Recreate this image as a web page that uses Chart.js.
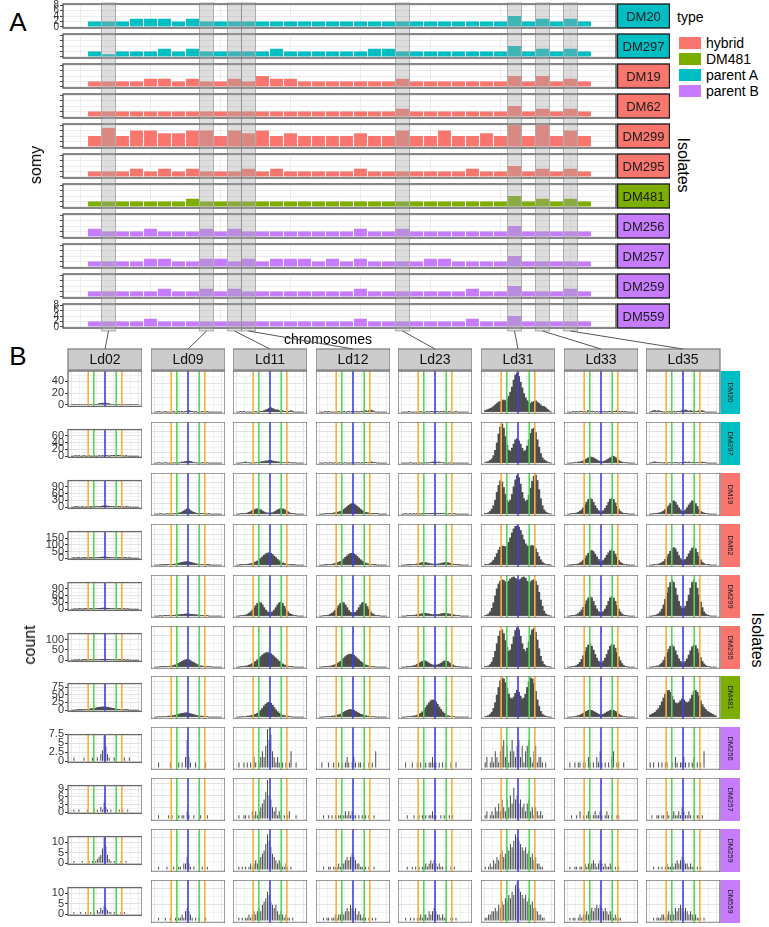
<!DOCTYPE html>
<html><head><meta charset="utf-8">
<script src="https://cdn.jsdelivr.net/npm/chart.js@4.4.1/dist/chart.umd.min.js"></script>
<style>
body{margin:0;background:#fff;width:769px;height:927px;position:relative;overflow:hidden;font-family:"Liberation Sans",Arial,Helvetica,sans-serif}
canvas{position:absolute}
.t{position:absolute;white-space:nowrap;color:#000;line-height:1}
</style></head><body>
<script>
// ---------------- DATA ----------------
const isolates = ['DM20','DM297','DM19','DM62','DM299','DM295','DM481','DM256','DM257','DM259','DM559'];
const isolateTypes = ['parent A','parent A','hybrid','hybrid','hybrid','hybrid','DM481','parent B','parent B','parent B','parent B'];
const typeNames = ['hybrid','DM481','parent A','parent B'];
const typeColors = ['#F8766D','#7CAE00','#00BFC4','#C77CFF'];
const chromosomes = [1,2,3,4,5,6,7,8,9,10,11,12,13,14,15,16,17,18,19,20,21,22,23,24,25,26,27,28,29,30,31,32,33,34,35,36];
const somyTicks = [0,2,4,6,8];
const chrGridTicks = [0,5,10,15,20,25,30,35];
const highlightChr = [2,9,11,12,23,31,33,35];
const chrNames = ['Ld02','Ld09','Ld11','Ld12','Ld23','Ld31','Ld33','Ld35'];

const somy_DM20  = [2,2,2,3,3,3,2,3,2,2,2,2, 2,2,2,2,2,2,2,2,2,2,2,2, 2,2,2,2,2,2,4,2,3,2,3,2];
const somy_DM297 = [2,1,2,2,2,3,2,3,2,2,2,2, 2,3,2,2,2,2,2,2,3,3,2,2, 2,2,2,2,2,2,4,2,3,2,3,2];
const somy_DM19  = [2,2,2,2,3,3,2,3,2,2,3,2, 4,3,3,2,2,2,2,2,2,2,3,2, 2,2,2,2,2,2,4,2,4,2,3,2];
const somy_DM62  = [2,2,2,2,2,2,2,2,2,2,2,2, 2,2,2,2,2,2,2,2,2,2,3,2, 2,2,2,2,2,2,4,2,3,2,3,2];
const somy_DM299 = [4,7,4,6,6,5,5,6,6,4,6,5, 6,4,5,4,4,4,4,5,4,4,6,4, 4,6,4,4,5,4,8,4,8,4,6,4];
const somy_DM295 = [2,2,2,3,2,3,2,3,2,2,2,3, 2,3,2,2,2,2,2,3,2,2,2,2, 2,2,2,3,2,2,4,2,3,2,3,2];
const somy_DM481 = [2,2,2,2,2,2,2,3,2,2,2,2, 2,2,2,2,2,2,2,2,2,2,2,2, 2,2,2,2,2,2,4,2,3,2,3,2];
const somy_DM256 = [3,2,2,2,3,2,2,2,3,2,3,2, 2,2,2,2,2,2,2,3,2,2,3,2, 2,2,2,2,2,2,4,2,2,2,2,2];
const somy_DM257 = [2,2,2,2,3,3,2,2,3,3,2,3, 2,3,3,3,2,3,2,3,2,2,2,2, 3,3,2,2,2,2,4,2,2,2,2,2];
const somy_DM259 = [2,2,2,2,2,3,2,2,3,2,3,2, 2,2,2,2,2,2,2,3,2,2,2,2, 2,2,2,3,2,2,4,2,2,2,3,2];
const somy_DM559 = [2,2,2,2,3,2,2,2,2,2,2,2, 2,2,2,2,2,2,2,3,2,2,2,2, 2,2,2,3,2,2,4,2,2,2,2,2];
const somyRows = [somy_DM20,somy_DM297,somy_DM19,somy_DM62,somy_DM299,somy_DM295,somy_DM481,somy_DM256,somy_DM257,somy_DM259,somy_DM559];

// allele-frequency histogram bins (centres) and reference lines
const afBins = [0.0125,0.0375,0.0625,0.0875,0.1125,0.1375,0.1625,0.1875,0.2125,0.2375,
                0.2625,0.2875,0.3125,0.3375,0.3625,0.3875,0.4125,0.4375,0.4625,0.4875,
                0.5125,0.5375,0.5625,0.5875,0.6125,0.6375,0.6625,0.6875,0.7125,0.7375,
                0.7625,0.7875,0.8125,0.8375,0.8625,0.8875,0.9125,0.9375,0.9625,0.9875];
const afGrid = [0,0.125,0.25,0.375,0.5,0.625,0.75,0.875,1];
const afLines = [0.25,0.3333,0.5,0.6667,0.75];
const afLineColors = ['#F7B03A','#52D852','#3F3FEA','#52D852','#F7B03A'];
const countTicks = [[0,20,40],[0,20,40,60],[0,30,60,90],[0,50,100,150],[0,30,60,90],[0,50,100],[0,25,50,75],[0,2.5,5,7.5],[0,3,6,9],[0,5,10],[0,5,10]];

const hist_DM20 = [
 [0,1,0,0,1,0,0,0,0,0, 1,0,0,0,0,1,2,2,3,2, 3,2,2,1,0,0,0,1,0,0, 0,0,0,1,0,1,0,0,0,0],
 [0,0,1,0,0,0,1,0,0,0, 0,1,0,0,1,0,1,0,1,1, 2,1,1,0,1,0,0,0,1,0, 0,1,0,0,0,0,0,0,0,0],
 [0,0,1,0,1,0,0,0,0,0, 0,1,0,1,1,1,2,3,4,5, 6,5,4,3,3,2,1,2,1,1, 0,1,2,1,0,0,0,0,0,0],
 [0,0,0,1,0,1,0,0,0,0, 0,1,0,0,1,0,0,1,0,1, 1,0,1,0,1,1,1,2,1,2, 3,2,1,0,0,0,0,0,0,0],
 [0,0,0,0,1,0,0,0,0,0, 0,1,0,0,0,1,0,1,1,0, 1,1,0,1,0,1,0,0,1,0, 0,0,1,0,0,0,0,0,0,0],
 [2,3,4,5,6,8,10,12,14,15, 16,17,16,18,22,28,35,45,52,55, 50,42,34,26,20,16,14,12,14,15, 16,14,12,10,8,8,6,4,2,0],
 [0,0,0,1,0,1,0,1,1,0, 1,0,2,1,1,1,0,1,0,1, 1,0,1,0,1,1,0,1,1,2, 1,0,1,0,1,0,0,0,0,0],
 [0,1,2,2,1,2,1,1,0,0, 1,0,1,0,1,0,1,1,1,2, 2,3,2,1,2,1,2,1,1,2, 1,2,1,0,0,0,0,0,0,0]];
const hist_DM297 = [
 [0,0,1,0,1,0,0,1,0,0, 1,0,0,1,0,0,1,0,1,0, 1,1,0,1,1,2,1,2,1,1, 1,0,1,0,0,0,0,0,0,0],
 [0,0,1,0,0,0,1,0,0,0, 0,1,0,1,0,1,2,2,3,3, 4,3,2,1,1,0,1,0,1,0, 0,1,0,0,0,0,0,0,0,0],
 [0,0,0,1,1,2,1,1,0,1, 0,1,1,2,2,3,3,4,4,5, 5,4,3,3,2,2,1,1,1,1, 2,1,1,0,1,0,0,0,0,0],
 [0,0,0,1,0,0,1,0,0,1, 0,0,1,0,0,1,0,0,0,1, 0,1,0,1,0,1,0,1,1,1, 2,2,1,1,0,0,0,0,0,0],
 [0,0,0,0,0,1,0,0,0,0, 1,0,0,0,1,0,1,1,2,2, 2,1,2,1,1,0,1,0,0,1, 0,0,0,0,0,0,0,0,0,0],
 [1,2,3,5,8,14,24,38,55,68, 74,66,50,34,24,22,28,36,44,46, 42,36,28,22,24,32,44,56,64,66, 58,44,30,18,10,6,4,2,1,0],
 [0,0,0,1,1,1,2,2,3,4, 6,8,10,12,11,10,8,6,4,3, 2,3,4,6,8,10,12,13,11,8, 5,3,2,1,1,1,0,0,0,0],
 [0,1,2,2,1,1,1,1,0,1, 0,1,1,0,1,1,1,0,1,1, 1,2,1,2,1,1,2,1,1,1, 1,2,1,1,0,0,0,0,0,0]];
const hist_DM19 = [
 [0,0,1,1,0,0,1,0,0,1, 0,1,1,1,2,2,3,4,5,6, 6,5,4,3,2,2,1,2,1,1, 1,0,1,1,0,0,0,0,0,0],
 [0,0,0,1,0,0,0,1,0,1, 0,1,1,2,3,4,6,9,12,15, 14,10,7,5,3,2,2,1,1,1, 1,0,1,0,0,0,0,0,0,0],
 [0,0,1,1,1,2,3,5,7,10, 12,14,15,14,12,9,6,4,3,3, 3,4,6,9,12,14,16,15,13,10, 7,4,2,1,1,0,0,0,0,0],
 [0,0,0,1,1,1,2,2,3,4, 5,6,8,10,13,17,21,25,28,30, 29,26,22,18,14,10,7,5,4,3, 2,2,1,1,1,0,0,0,0,0],
 [0,0,1,0,0,1,0,1,0,1, 1,0,1,1,2,1,2,2,1,2, 2,1,2,2,1,1,1,0,1,1, 0,1,0,0,0,0,0,0,0,0],
 [1,2,4,8,14,24,40,62,82,95, 92,76,56,40,34,40,56,78,98,110, 104,86,62,44,36,40,54,74,94,108, 112,96,70,44,24,12,6,3,1,0],
 [0,0,1,1,2,3,5,8,12,18, 26,34,42,46,42,34,24,16,10,7, 7,10,16,24,34,42,46,42,32,22, 14,8,4,2,1,1,0,0,0,0],
 [0,0,1,1,2,3,4,6,9,13, 18,24,30,36,38,34,26,18,12,8, 8,12,18,26,32,38,36,30,22,14, 8,5,3,2,1,0,0,0,0,0]];
const hist_DM62 = [
 [0,1,0,1,1,0,1,1,1,1, 2,2,3,3,4,5,6,7,8,8, 8,7,6,5,4,3,3,2,2,1, 1,1,1,0,1,0,0,0,0,0],
 [0,0,0,1,0,1,1,1,2,2, 3,4,5,7,9,11,13,15,16,17, 16,14,11,9,7,5,4,3,2,2, 1,1,1,0,0,0,0,0,0,0],
 [0,0,1,1,2,3,4,5,7,9, 12,16,20,26,33,40,48,55,59,60, 58,52,44,36,28,21,15,11,8,5, 3,2,1,1,1,0,0,0,0,0],
 [0,0,0,1,1,2,3,4,6,8, 11,14,18,24,30,38,45,52,57,58, 55,50,42,34,26,20,14,10,7,5, 3,2,1,1,0,0,0,0,0,0],
 [0,0,0,1,1,1,2,3,4,6, 8,10,12,13,12,10,8,6,5,4, 4,5,6,8,10,12,13,12,10,7, 5,3,2,1,1,0,0,0,0,0],
 [1,2,4,8,14,24,38,56,74,88, 94,92,90,96,112,134,158,178,190,192, 186,170,148,124,104,94,92,94,96,92, 80,62,42,26,14,7,3,1,1,0],
 [0,0,1,1,2,4,6,10,16,24, 34,46,58,68,72,66,54,40,28,20, 18,24,34,48,60,70,74,68,54,38, 24,14,8,4,2,1,0,0,0,0],
 [0,0,1,2,3,5,8,12,18,28, 40,54,68,80,86,80,64,46,32,24, 22,28,40,56,70,82,88,80,62,42, 26,14,7,3,2,1,0,0,0,0]];
const hist_DM299 = [
 [0,0,1,0,1,1,0,1,1,1, 2,1,2,2,3,3,4,4,5,5, 5,4,4,3,3,2,2,2,1,1, 1,1,0,1,0,0,0,0,0,0],
 [0,0,0,1,0,1,1,1,1,2, 2,2,3,3,4,4,5,5,6,6, 6,5,5,4,4,3,3,2,2,1, 1,1,0,0,0,0,0,0,0,0],
 [0,0,1,1,2,3,5,8,12,17, 23,30,36,40,38,32,24,17,12,10, 10,12,17,24,32,38,40,36,28,20, 13,8,5,3,1,1,0,0,0,0],
 [0,0,1,1,2,3,5,8,12,17, 23,30,36,40,38,32,24,16,11,9, 9,11,16,24,32,38,40,35,27,19, 12,7,4,2,1,1,0,0,0,0],
 [0,0,0,1,1,1,2,2,3,4, 5,6,7,8,8,7,6,5,4,4, 4,4,5,6,7,8,8,7,6,5, 4,3,2,1,1,0,0,0,0,0],
 [1,3,6,12,22,38,58,78,92,100, 104,102,98,96,100,106,110,112,108,104, 102,106,110,112,108,100,96,98,102,104, 100,88,68,46,28,14,6,3,1,0],
 [0,0,1,1,2,4,7,11,17,25, 34,44,52,56,52,42,30,20,13,10, 10,13,20,30,42,52,56,52,42,30, 20,12,6,3,2,1,0,0,0,0],
 [0,0,1,2,4,7,12,20,32,48, 66,82,96,102,96,80,60,42,28,22, 22,28,42,60,80,96,102,96,80,60, 40,24,12,6,3,1,0,0,0,0]];
const hist_DM295 = [
 [0,0,1,0,1,0,1,1,1,1, 1,2,2,2,3,3,3,4,4,4, 4,4,3,3,3,2,2,2,1,1, 1,1,0,1,0,0,0,0,0,0],
 [0,0,0,1,1,1,1,2,2,3, 4,5,7,9,12,15,18,21,23,24, 23,20,17,14,11,8,6,4,3,2, 2,1,1,1,0,0,0,0,0,0],
 [0,0,1,1,2,3,4,6,8,11, 14,18,23,28,33,38,42,45,46,45, 42,38,33,28,23,18,14,10,7,5, 3,2,1,1,0,0,0,0,0,0],
 [0,0,1,1,1,2,3,4,6,8, 11,14,18,23,28,33,37,40,41,40, 37,33,28,23,18,14,10,7,5,3, 2,1,1,0,0,0,0,0,0,0],
 [0,0,0,1,1,2,3,4,6,9, 12,15,18,20,19,16,12,9,7,6, 6,7,9,12,16,19,20,18,14,10, 7,4,2,1,1,0,0,0,0,0],
 [1,2,4,8,16,30,50,74,98,114, 118,106,84,62,50,54,72,96,116,124, 118,98,74,56,50,60,80,102,118,122, 110,86,58,34,18,8,4,2,1,0],
 [0,0,1,2,3,5,9,15,24,36, 50,62,70,72,66,54,40,28,19,14, 14,19,28,40,54,66,72,70,60,46, 32,20,11,5,2,1,0,0,0,0],
 [0,0,1,2,3,4,8,13,21,32, 45,57,66,70,64,52,38,26,18,13, 13,18,26,38,52,64,70,68,58,44, 30,18,10,5,2,1,0,0,0,0]];
const hist_DM481 = [
 [0,0,0,1,1,1,1,2,2,3, 3,4,5,6,7,8,9,10,10,11, 10,9,8,7,6,5,4,3,3,2, 2,1,1,1,0,0,0,0,0,0],
 [0,0,1,0,1,1,1,1,2,2, 3,3,4,5,6,7,8,8,9,9, 8,7,6,5,4,3,3,2,2,1, 1,1,0,0,0,0,0,0,0,0],
 [0,0,0,1,1,1,2,2,3,4, 5,6,8,11,14,18,23,27,30,31, 29,25,20,15,11,8,6,4,3,2, 2,1,1,0,0,0,0,0,0,0],
 [0,0,0,1,1,1,1,2,2,3, 4,5,6,8,10,12,14,15,16,15, 14,12,10,8,6,5,4,3,2,2, 1,1,1,0,0,0,0,0,0,0],
 [0,0,0,1,1,1,2,2,3,4, 6,8,11,15,20,25,30,34,36,35, 32,27,21,16,11,8,5,3,2,1, 1,1,0,0,0,0,0,0,0,0],
 [1,2,3,6,10,18,30,46,62,76, 82,80,72,60,48,40,38,42,50,56, 52,44,38,40,48,62,74,82,80,70, 54,36,22,12,6,3,2,1,0,0],
 [0,0,0,1,1,2,3,4,6,8, 10,12,14,15,14,12,10,8,6,5, 5,6,8,10,12,14,15,14,12,9, 6,4,2,1,1,0,0,0,0,0],
 [4,6,8,10,14,18,24,32,40,48, 54,56,52,44,36,30,28,30,34,38, 36,32,30,32,38,46,54,56,52,44, 34,26,20,16,12,10,8,6,4,2]];
const hist_DM256 = [
 [0,1,0,0,0,0,0,1,0,0, 0,0,1,0,0,1,0,2,3,7, 4,2,1,0,0,1,0,0,0,0, 0,1,0,0,1,0,0,0,0,0],
 [0,0,1,0,0,0,0,0,0,1, 0,0,0,0,1,0,1,0,2,5, 2,1,0,0,1,0,0,0,0,0, 1,0,0,0,0,0,0,0,0,0],
 [0,1,0,0,1,0,1,0,1,0, 2,1,0,1,2,3,2,4,7,5, 6,3,2,1,2,1,0,1,0,1, 0,1,3,0,0,1,0,0,0,0],
 [0,1,0,0,0,1,0,0,1,0, 0,1,0,1,0,1,2,1,0,1, 2,1,0,1,1,0,1,0,0,1, 0,1,0,3,0,0,0,0,0,0],
 [0,0,1,0,0,0,1,0,0,1, 0,1,0,0,1,0,1,1,2,1, 1,0,1,0,1,0,1,0,0,1, 0,0,1,0,0,0,0,0,0,0],
 [1,2,0,1,2,1,3,2,1,3, 4,5,2,4,1,3,5,3,2,4, 5,2,4,1,3,4,5,2,1,3, 4,1,2,2,1,0,1,0,0,0],
 [0,1,0,0,1,0,1,1,0,1, 1,0,2,1,0,1,0,2,1,3, 1,0,1,0,1,0,2,3,0,1, 1,0,0,1,0,0,0,0,0,0],
 [1,0,1,0,0,1,0,1,0,1, 1,0,0,1,0,2,1,0,1,1, 2,1,0,1,0,1,2,0,1,0, 1,0,3,0,0,0,0,0,0,0]];
const hist_DM257 = [
 [0,1,0,0,1,0,0,0,0,1, 0,0,0,1,0,1,0,2,1,4, 2,1,0,1,0,0,0,0,1,0, 1,0,0,1,0,0,0,0,0,0],
 [0,0,1,0,0,0,0,0,1,0, 1,0,0,0,1,0,1,1,0,2, 1,0,0,1,0,0,0,1,0,0, 0,1,0,0,0,0,0,0,0,0],
 [0,1,0,0,1,1,0,1,0,2, 1,2,1,2,3,4,5,7,10,6, 5,3,2,3,1,2,1,0,1,0, 1,2,0,0,0,1,0,0,0,0],
 [0,0,1,0,0,1,0,1,0,1, 0,1,1,0,1,2,1,2,1,2, 1,1,0,1,0,1,0,1,0,1, 0,0,1,0,0,0,0,0,0,0],
 [0,0,0,1,0,0,0,1,0,0, 1,0,1,0,1,0,1,1,2,1, 1,0,0,1,0,1,0,0,1,0, 1,0,0,0,0,0,0,0,0,0],
 [1,2,0,1,2,1,3,2,4,2, 5,3,2,5,3,6,4,8,5,6, 4,5,3,4,2,4,5,2,3,1, 3,2,1,2,1,0,0,0,0,0],
 [0,0,1,0,0,1,0,2,0,1, 0,1,2,1,0,1,2,1,1,2, 1,0,1,2,1,0,1,0,0,1, 1,0,0,0,0,0,0,0,0,0],
 [0,1,0,0,1,1,0,1,1,0, 2,1,0,1,2,1,1,2,1,3, 2,1,1,2,1,0,1,0,1,1, 0,1,0,0,0,0,0,0,0,0]];
const hist_DM259 = [
 [0,1,0,0,0,0,1,0,0,0, 1,0,1,0,1,2,3,4,7,12, 8,4,2,1,0,1,0,0,0,1, 0,0,1,0,0,0,0,0,0,0],
 [0,0,1,0,0,0,0,1,0,0, 0,1,0,0,1,1,0,2,2,4, 2,1,0,1,0,0,0,0,1,0, 0,1,0,0,0,0,0,0,0,0],
 [0,1,0,1,0,1,0,1,2,1, 2,3,2,3,4,5,6,8,11,9, 7,5,4,3,2,3,2,1,1,2, 1,0,1,0,0,0,0,0,0,0],
 [0,0,1,0,0,1,1,0,1,1, 1,2,1,2,2,3,4,3,4,5, 4,3,2,2,1,1,0,1,0,1, 0,0,1,0,0,0,0,0,0,0],
 [0,0,0,1,0,0,1,0,1,0, 1,0,1,1,2,1,2,3,2,3, 2,1,2,1,1,0,1,0,0,1, 0,1,0,0,0,0,0,0,0,0],
 [1,0,1,2,1,3,2,4,3,5, 6,4,5,7,6,8,7,9,11,10, 9,8,7,6,7,5,6,4,5,3, 4,2,2,1,1,0,0,0,0,0],
 [0,1,0,0,1,1,0,1,1,0, 2,1,2,1,2,3,2,1,2,3, 2,1,2,1,1,2,1,0,1,0, 1,0,0,0,0,0,0,0,0,0],
 [0,0,1,0,0,1,0,1,0,1, 2,1,1,2,1,2,3,2,3,4, 3,2,2,1,2,1,1,0,1,0, 1,0,0,0,0,0,0,0,0,0]];
const hist_DM559 = [
 [0,1,0,0,0,1,0,0,1,0, 0,1,0,1,0,2,1,3,2,4, 3,2,1,1,0,1,0,0,0,1, 0,1,0,0,0,0,0,0,0,0],
 [0,0,1,0,0,0,1,0,0,1, 0,0,1,0,1,1,2,1,3,4, 3,2,1,0,1,0,1,0,0,0, 1,0,0,0,0,0,0,0,0,0],
 [0,1,0,1,0,1,1,2,1,2, 3,2,3,4,3,5,6,7,9,8, 6,5,4,5,3,2,3,2,1,2, 1,1,0,1,0,0,0,0,0,0],
 [0,0,1,0,1,1,0,1,1,2, 1,2,2,3,2,3,4,3,5,4, 3,4,2,3,2,1,2,1,0,1, 0,1,0,1,0,0,0,0,0,0],
 [0,0,1,0,0,1,0,1,0,1, 1,2,1,2,2,1,3,2,3,4, 3,2,2,1,2,1,1,0,0,1, 1,0,1,0,0,0,0,0,0,0],
 [1,1,2,2,3,3,4,3,5,4, 6,5,7,6,8,7,9,8,11,12, 10,9,8,7,8,6,7,5,6,4, 4,3,2,2,1,1,0,0,0,0],
 [0,1,0,1,1,0,1,2,1,2, 2,3,2,3,4,3,4,5,4,5, 4,3,4,3,2,3,2,1,2,1, 1,1,0,0,0,0,0,0,0,0],
 [0,0,1,0,1,1,1,2,2,1, 2,3,2,3,2,4,3,4,5,4, 3,4,3,2,3,2,1,2,1,1, 1,0,1,0,0,0,0,0,0,0]];
const histRows = [hist_DM20,hist_DM297,hist_DM19,hist_DM62,hist_DM299,hist_DM295,hist_DM481,hist_DM256,hist_DM257,hist_DM259,hist_DM559];

// ---------------- LAYOUT / DRAWING ----------------
const FONT = '"Liberation Sans", Arial, Helvetica, sans-serif';
Chart.defaults.font.family = FONT;
Chart.defaults.animation = false;
function typeColor(i){ return typeColors[typeNames.indexOf(isolateTypes[i])]; }
function mkCanvas(left, top, w, h, z){
  const c = document.createElement('canvas');
  c.width = w; c.height = h;
  c.style.left = left+'px'; c.style.top = top+'px';
  c.style.width = w+'px'; c.style.height = h+'px';
  if (z) c.style.zIndex = z;
  document.body.appendChild(c);
  return c;
}
function addText(txt, x, y, size, rot){
  const d = document.createElement('div');
  d.className = 't'; d.textContent = txt;
  d.style.fontSize = size+'px';
  d.style.left = x+'px'; d.style.top = y+'px';
  d.style.transform = 'translate(-50%,-50%)' + (rot ? ' rotate('+rot+'deg)' : '');
  document.body.appendChild(d);
  return d;
}

const panelAPlugin = {
  id: 'panelA',
  afterDraw(chart, args, o){
    const {ctx, chartArea: a} = chart;
    ctx.save();
    ctx.strokeStyle = '#555'; ctx.lineWidth = 1.4;
    ctx.strokeRect(a.left, a.top, a.right-a.left, a.bottom-a.top);
    const sx = a.right + 1.5, sw = 52;
    ctx.fillStyle = o.color; ctx.fillRect(sx, a.top, sw, a.bottom-a.top);
    ctx.strokeStyle = '#222'; ctx.lineWidth = 1.4;
    ctx.strokeRect(sx, a.top, sw, a.bottom-a.top);
    ctx.fillStyle = '#1a1a1a'; ctx.font = '13px '+FONT;
    ctx.textAlign = 'center'; ctx.textBaseline = 'middle';
    ctx.fillText(o.label, sx + sw/2, (a.top+a.bottom)/2 + 1);
    ctx.restore();
  }
};

const chartsA = [];
isolates.forEach((iso, i) => {
  const top = 3 + i*30;
  const cv = mkCanvas(30, top-6, 640, 38);
  const showLabels = (i === 0 || i === isolates.length-1);
  const ch = new Chart(cv, {
    type: 'bar',
    data: { datasets: [{
      data: chromosomes.map((c,k) => ({x: c, y: somyRows[i][k]})),
      backgroundColor: typeColor(i), borderWidth: 0,
      barPercentage: 0.92, categoryPercentage: 1
    }]},
    options: {
      responsive: false, devicePixelRatio: 1, animation: false,
      layout: { padding: {top: 6, bottom: 6, left: 0, right: 54} },
      plugins: { legend: {display: false}, tooltip: {enabled: false}, panelA: {color: typeColor(i), label: iso} },
      scales: {
        x: { type: 'linear', min: -1.25, max: 38.25, offset: false,
             grid: { offset: false, color: '#ebebeb', drawTicks: false, lineWidth: 1 },
             border: { display: false }, ticks: { display: false },
             afterBuildTicks: s => { s.ticks = chrGridTicks.map(v => ({value: v})); },
             afterFit: s => { s.height = 0; } },
        y: { min: -0.4, max: 8.4,
             afterBuildTicks: s => { s.ticks = somyTicks.map(v => ({value: v})); },
             grid: { color: '#ebebeb', tickColor: '#444', tickLength: 3, lineWidth: 1 },
             border: { display: false },
             ticks: { font: {size: 10}, color: '#333', padding: 1, autoSkip: false,
                      callback: v => showLabels ? String(v) : '' },
             afterFit: s => { s.width = 33; } }
      }
    },
    plugins: [panelAPlugin]
  });
  chartsA.push(ch);
});

// ---------- Panel B ----------
const histPlugin = {
  id: 'histDeco',
  afterDatasetsDraw(chart){
    const {ctx, chartArea: a} = chart; const xs = chart.scales.x;
    ctx.save();
    ctx.beginPath(); ctx.rect(a.left, a.top, a.right-a.left, a.bottom-a.top); ctx.clip();
    afLines.forEach((v, k) => {
      const px = xs.getPixelForValue(v);
      ctx.strokeStyle = afLineColors[k]; ctx.lineWidth = 1.6;
      ctx.beginPath(); ctx.moveTo(px, a.top); ctx.lineTo(px, a.bottom); ctx.stroke();
    });
    ctx.restore();
  },
  afterDraw(chart, args, o){
    const {ctx, chartArea: a} = chart;
    ctx.save();
    ctx.strokeStyle = '#6a6a6a'; ctx.lineWidth = 1.3;
    ctx.strokeRect(a.left, a.top, a.right-a.left, a.bottom-a.top);
    if (o.header){
      const hy = a.top - 22, hh = 21;
      ctx.fillStyle = '#cccccc'; ctx.fillRect(a.left, hy, a.right-a.left, hh);
      ctx.strokeStyle = '#7a7a7a'; ctx.lineWidth = 1.2; ctx.strokeRect(a.left, hy, a.right-a.left, hh);
      ctx.fillStyle = '#111'; ctx.font = '14px '+FONT; ctx.textAlign = 'center'; ctx.textBaseline = 'middle';
      ctx.fillText(o.header, (a.left+a.right)/2, hy + hh/2 + 1);
    }
    if (o.strip){
      const sx = a.right + 1, sw = 19;
      ctx.fillStyle = o.stripColor; ctx.fillRect(sx, a.top, sw, a.bottom-a.top);
      ctx.translate(sx + sw/2, (a.top+a.bottom)/2);
      ctx.rotate(Math.PI/2);
      ctx.fillStyle = '#222'; ctx.font = '7.5px '+FONT; ctx.textAlign = 'center'; ctx.textBaseline = 'middle';
      ctx.fillText(o.strip, 0, 0);
    }
    ctx.restore();
  }
};

const chartsB = [];
histRows.forEach((row, i) => {
  const rowMax = Math.max(...row.map(h => Math.max(...h)));
  const yMin = -0.05*rowMax, yMax = 1.05*rowMax;
  const major = countTicks[i];
  const step = major[1] - major[0];
  const gridVals = [];
  major.forEach(v => { gridVals.push(v); if (v + step/2 < yMax) gridVals.push(v + step/2); });
  const sparse = i >= 7;
  chartsB.push([]);
  row.forEach((h, j) => {
    const left = Math.round(68 + j*82.6), top = Math.round(371 + i*50.9);
    const first = j === 0, last = j === row.length-1, firstRow = i === 0;
    const axisW = first ? 38 : 0, padTop = firstRow ? 23 : 0, padRight = last ? 21 : 0;
    const cv = mkCanvas(left-axisW, top-padTop, axisW+74+padRight, padTop+43);
    const ch = new Chart(cv, {
      type: 'bar',
      data: { datasets: [{
        data: afBins.map((b,k) => ({x: b, y: h[k]})),
        backgroundColor: '#4d4d4d', borderWidth: 0,
        barPercentage: sparse ? 0.6 : 1, categoryPercentage: 1
      }]},
      options: {
        responsive: false, devicePixelRatio: 1, animation: false,
        layout: { padding: {top: padTop, bottom: 0, left: 0, right: padRight} },
        plugins: { legend: {display: false}, tooltip: {enabled: false},
          histDeco: { header: firstRow ? chrNames[j] : null, strip: last ? isolates[i] : null, stripColor: typeColor(i) } },
        scales: {
          x: { type: 'linear', min: -0.05, max: 1.05, offset: false,
               grid: { offset: false, color: c => (c.index % 2 === 0 ? '#e6e6e6' : '#f2f2f2'), drawTicks: false },
               border: { display: false }, ticks: { display: false },
               afterBuildTicks: s => { s.ticks = afGrid.map(v => ({value: v})); },
               afterFit: s => { s.height = 0; } },
          y: { min: yMin, max: yMax,
               afterBuildTicks: s => { s.ticks = gridVals.map(v => ({value: v})); },
               grid: { color: c => (c.tick && major.includes(c.tick.value) ? '#e3e3e3' : '#f2f2f2'),
                       tickColor: c => (c.tick && major.includes(c.tick.value) ? '#333' : 'rgba(0,0,0,0)'),
                       tickLength: 3, drawTicks: first },
               border: { display: false },
               ticks: { display: first, font: {size: 11}, color: '#333', padding: 1, autoSkip: false,
                        callback: v => major.includes(v) ? String(v) : '' },
               afterFit: s => { s.width = axisW; } }
        }
      },
      plugins: [histPlugin]
    });
    chartsB[i].push(ch);
  });
});

// ---------- overlay: highlight bands + connectors ----------
(function(){
  const ov = mkCanvas(0, 0, 769, 360, 5);
  ov.style.pointerEvents = 'none';
  const ctx = ov.getContext('2d');
  const refA = chartsA[chartsA.length-1];
  const offA = 30;
  const xs = refA.scales.x;
  const yTop = 3, yBot = 331;
  highlightChr.forEach((c, j) => {
    const x1 = offA + xs.getPixelForValue(c - 0.5), x2 = offA + xs.getPixelForValue(c + 0.5);
    ctx.fillStyle = 'rgba(165,165,165,0.38)';
    ctx.fillRect(x1, yTop, x2-x1, yBot-yTop);
    ctx.strokeStyle = 'rgba(120,120,120,0.55)'; ctx.lineWidth = 1;
    ctx.strokeRect(x1, yTop, x2-x1, yBot-yTop);
    const hb = chartsB[0][j];
    const cvLeft = parseFloat(hb.canvas.style.left);
    const hx = cvLeft + (hb.chartArea.left + hb.chartArea.right)/2;
    ctx.strokeStyle = '#555'; ctx.lineWidth = 1;
    ctx.beginPath(); ctx.moveTo((x1+x2)/2, yBot); ctx.lineTo(hx, 349); ctx.stroke();
  });
})();

// ---------- texts ----------
addText('A', 18, 22, 26);
addText('B', 18, 356, 26);
addText('somy', 36, 165, 16, -90);
addText('Isolates', 683, 165, 16, 90);
addText('chromosomes', 328, 339, 14);
addText('count', 30, 645, 16, -90);
addText('Isolates', 757, 640, 16, 90);
const typeTitle = document.createElement('div');
typeTitle.className = 't'; typeTitle.textContent = 'type'; typeTitle.style.fontSize = '14px';
typeTitle.style.left = '677px'; typeTitle.style.top = '10px';
document.body.appendChild(typeTitle);
typeNames.forEach((n, k) => {
  const y = 43 + k*16;
  const r = document.createElement('div');
  r.style.cssText = 'position:absolute;left:679px;top:'+(y-6)+'px;width:22px;height:12px;background:'+typeColors[k];
  document.body.appendChild(r);
  const d = document.createElement('div');
  d.className = 't'; d.textContent = n; d.style.fontSize = '14px';
  d.style.left = '706px'; d.style.top = (y-7)+'px';
  document.body.appendChild(d);
});
</script>
</body></html>
